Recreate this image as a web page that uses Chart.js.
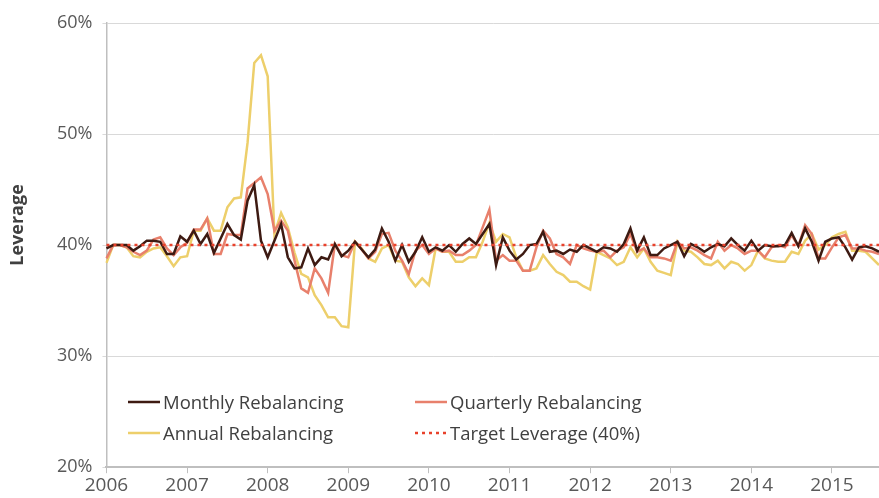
<!DOCTYPE html>
<html lang="en">
<head>
    <meta charset="UTF-8">
    <title>Leverage</title>
    <style>
        body { margin: 0; background: #fff; }
        #wrap { width: 879px; height: 498px; position: relative; }
    </style>
</head>
<body>
    <div id="wrap"><canvas id="lev"></canvas></div>
    <script src="https://cdn.jsdelivr.net/npm/chart.js@4.4.1/dist/chart.umd.min.js"></script>
    <script>
        // monthly observations, Jan 2006 .. Aug 2015
        var startYear = 2006;
        var nPoints = 116;
        var months = [];
        for (var i = 0; i < nPoints; i++) {
            var yr = startYear + Math.floor(i / 12);
            var mo = (i % 12) + 1;
            months.push(yr + '-' + (mo < 10 ? '0' + mo : mo));
        }

        var monthly = [
            39.7, 40.0, 40.0, 40.0, 39.5, 39.9, 40.4, 40.4, 40.3, 39.2, 39.2, 40.8,
            40.3, 41.3, 40.1, 41.0, 39.3, 40.6, 41.9, 40.9, 40.5, 44.0, 45.4, 40.4,
            38.9, 40.4, 41.9, 38.9, 37.9, 38.0, 39.7, 38.2, 38.9, 38.7, 40.1, 39.0,
            39.5, 40.3, 39.6, 38.9, 39.6, 41.5, 40.3, 38.6, 40.0, 38.5, 39.4, 40.7,
            39.4, 39.8, 39.5, 40.0, 39.4, 40.1, 40.6, 40.1, 41.0, 41.9, 38.2, 40.7,
            39.5, 38.7, 39.2, 40.0, 40.1, 41.2, 39.4, 39.5, 39.2, 39.6, 39.4, 40.0,
            39.7, 39.4, 39.8, 39.7, 39.4, 40.1, 41.5, 39.5, 40.7, 39.1, 39.1, 39.7,
            40.0, 40.3, 39.0, 40.1, 39.8, 39.4, 39.8, 40.1, 39.9, 40.6, 40.0, 39.5,
            40.4, 39.5, 40.0, 39.9, 39.9, 40.0, 41.1, 39.9, 41.5, 40.3, 38.6, 40.3,
            40.6, 40.7, 39.8, 38.7, 39.8, 39.9, 39.7, 39.4
        ];
        var quarterly = [
            38.8, 40.0, 40.0, 39.8, 39.4, 39.1, 39.5, 40.5, 40.7, 39.7, 39.1, 39.8,
            40.2, 41.4, 41.4, 42.4, 39.2, 39.2, 41.0, 40.9, 40.9, 45.1, 45.6, 46.1,
            44.6, 41.3, 42.2, 41.3, 38.6, 36.1, 35.7, 37.9, 37.0, 35.7, 40.1, 39.1,
            38.9, 40.3, 39.6, 38.8, 39.4, 41.0, 41.1, 39.5, 38.6, 37.4, 39.5, 40.0,
            39.2, 39.7, 39.4, 39.5, 39.1, 39.1, 39.5, 40.0, 41.6, 43.2, 38.6, 39.1,
            38.6, 38.6, 37.7, 37.7, 39.8, 41.3, 40.6, 39.2, 38.9, 38.3, 40.0, 39.7,
            39.5, 39.4, 39.5, 38.9, 39.5, 39.8, 41.0, 39.4, 39.7, 38.9, 38.9, 38.8,
            38.6, 40.3, 39.7, 39.8, 39.5, 39.1, 38.8, 40.3, 39.5, 40.0, 39.7, 39.2,
            39.5, 39.5, 38.9, 39.8, 40.0, 39.8, 40.9, 39.9, 41.8, 41.0, 38.8, 38.8,
            39.8, 40.7, 40.9, 39.7, 39.7, 39.5, 39.4, 39.2
        ];
        var annual = [
            38.4, 40.0, 40.0, 39.8, 39.0, 38.9, 39.4, 39.7, 39.8, 39.0, 38.1, 38.9,
            39.0, 41.3, 41.3, 42.4, 41.3, 41.3, 43.4, 44.2, 44.3, 49.2, 56.4, 57.1,
            55.2, 41.0, 42.9, 41.6, 39.3, 37.4, 37.1, 35.5, 34.6, 33.5, 33.5, 32.7,
            32.6, 40.3, 39.7, 38.8, 38.5, 39.7, 40.0, 38.6, 38.5, 37.1, 36.3, 37.0,
            36.4, 39.7, 39.4, 39.4, 38.5, 38.5, 38.9, 38.9, 40.3, 42.0, 40.3, 41.0,
            40.7, 38.9, 37.7, 37.7, 37.9, 39.1, 38.3, 37.6, 37.3, 36.7, 36.7, 36.3,
            36.0, 39.4, 39.1, 38.8, 38.2, 38.5, 39.8, 38.9, 39.7, 38.5, 37.7, 37.5,
            37.3, 40.3, 39.5, 39.4, 38.9, 38.3, 38.2, 38.6, 37.9, 38.5, 38.3, 37.7,
            38.2, 39.5, 38.8, 38.6, 38.5, 38.5, 39.4, 39.2, 40.4, 41.0, 39.6, 40.0,
            40.7, 41.0, 41.2, 39.5, 39.5, 39.4, 38.8, 38.2
        ];
        var target = 40;
        var yTicks = [20, 30, 40, 50, 60];

        var textColor = '#595959';
        var fontFamily = '"Open Sans", "Noto Sans", sans-serif';

        var data = {
            labels: months,
            datasets: [{
                label: 'Target Leverage (40%)',
                data: [{ x: months[0], y: target }, { x: months[months.length - 1], y: target }],
                borderColor: '#E8412B',
                borderWidth: 2.5,
                borderDash: [3, 4],
                borderCapStyle: 'butt',
                order: 0
            }, {
                label: 'Monthly Rebalancing',
                data: monthly,
                borderColor: '#3D1A12',
                borderWidth: 2.5,
                order: 1
            }, {
                label: 'Quarterly Rebalancing',
                data: quarterly,
                borderColor: '#E8806C',
                borderWidth: 2.5,
                order: 2
            }, {
                label: 'Annual Rebalancing',
                data: annual,
                borderColor: '#EDCF6B',
                borderWidth: 2.5,
                order: 3
            }]
        };

        // legend sits inside the plot, two columns
        var legendSlots = {
            'Monthly Rebalancing': [128, 404],
            'Quarterly Rebalancing': [415, 404],
            'Annual Rebalancing': [128, 435],
            'Target Leverage (40%)': [415, 435]
        };
        var insideLegend = {
            id: 'insideLegend',
            afterDraw: function (chart) {
                var ctx = chart.ctx;
                ctx.save();
                chart.data.datasets.forEach(function (ds) {
                    var pos = legendSlots[ds.label];
                    ctx.beginPath();
                    ctx.strokeStyle = ds.borderColor;
                    ctx.lineWidth = ds.borderWidth;
                    ctx.setLineDash(ds.borderDash || []);
                    ctx.moveTo(pos[0], pos[1] - 2);
                    ctx.lineTo(pos[0] + 32, pos[1] - 2);
                    ctx.stroke();
                    ctx.setLineDash([]);
                    ctx.fillStyle = '#404040';
                    ctx.font = '18.5px ' + fontFamily;
                    ctx.textBaseline = 'middle';
                    ctx.fillText(ds.label, pos[0] + 35, pos[1]);
                });

                // y axis title, a bit above the axis middle as in the original
                ctx.translate(18, 225);
                ctx.rotate(-Math.PI / 2);
                ctx.fillStyle = '#404040';
                ctx.font = 'bold 18px ' + fontFamily;
                ctx.textAlign = 'center';
                ctx.textBaseline = 'middle';
                ctx.fillText('Leverage', 0, 0);
                ctx.restore();
            }
        };

        var options = {
            responsive: true,
            maintainAspectRatio: false,
            animation: false,
            layout: { padding: { top: 23, left: 47, right: 0, bottom: 0 } },
            elements: { point: { radius: 0 }, line: { tension: 0 } },
            scales: {
                x: {
                    type: 'category',
                    offset: false,
                    grid: { drawOnChartArea: false, color: '#bfbfbf', tickLength: 6 },
                    border: { color: '#bfbfbf', width: 2 },
                    ticks: {
                        autoSkip: false,
                        maxRotation: 0,
                        color: textColor,
                        font: { family: fontFamily, size: 19 },
                        padding: 1,
                        callback: function (value) {
                            var lab = this.getLabelForValue(value);
                            return lab.slice(5) === '01' ? lab.slice(0, 4) : null;
                        }
                    }
                },
                y: {
                    min: 20,
                    max: 60,
                    afterBuildTicks: function (axis) {
                        axis.ticks = yTicks.map(function (v) { return { value: v }; });
                    },
                    grid: { color: '#d9d9d9', tickLength: 4 },
                    border: { color: '#bfbfbf', width: 1.5 },
                    ticks: {
                        color: textColor,
                        font: { family: fontFamily, size: 18 },
                        padding: 10,
                        callback: function (value) { return value + '%'; }
                    }
                }
            },
            plugins: {
                legend: { display: false },
                tooltip: { enabled: false }
            }
        };

        window.onload = function () {
            var ctx = document.getElementById('lev').getContext('2d');
            window.levChart = new Chart(ctx, {
                type: 'line',
                data: data,
                options: options,
                plugins: [insideLegend]
            });
        };
    </script>
</body>
</html>
